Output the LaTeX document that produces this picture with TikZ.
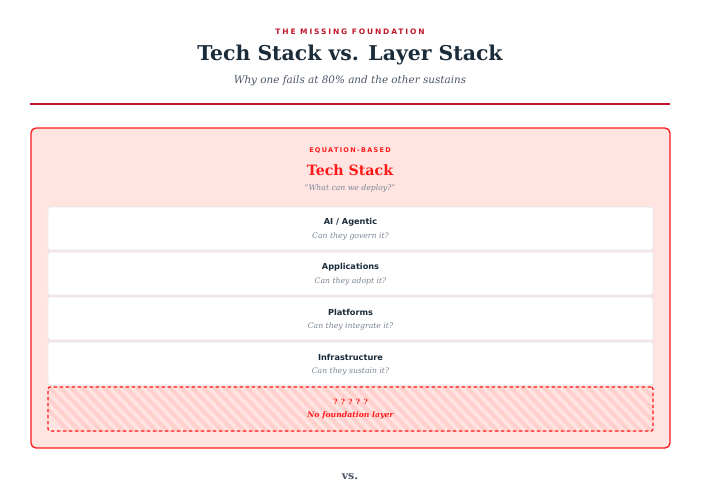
\documentclass[tikz,border=0pt]{standalone}
\usepackage{fontspec}
\setmainfont{DejaVu Serif}
\setsansfont{DejaVu Sans}
\usetikzlibrary{positioning}
\definecolor{navy}{HTML}{1A2B3A}
\definecolor{darkred}{HTML}{C0182B}
\definecolor{brightred}{HTML}{FF1A1A}
\definecolor{blush}{HTML}{FFE4E1}
\definecolor{stripe}{HTML}{FFD0CC}
\definecolor{slate}{HTML}{4A5565}
\definecolor{muted}{HTML}{7A8594}
\definecolor{rowline}{HTML}{E2E6EC}

\begin{document}
\begin{tikzpicture}[x=1pt, y=-1pt,
    kicker/.style={font=\sffamily\bfseries\fontsize{7.5}{9}\selectfont, text=darkred},
    layer/.style={fill=white, draw=rowline, line width=0.8pt, rounded corners=2pt, minimum width=605pt, minimum height=43pt, inner sep=0pt},
    layername/.style={font=\sffamily\bfseries\fontsize{8.2}{10}\selectfont, text=navy},
    layerq/.style={font=\itshape\fontsize{7.7}{9}\selectfont, text=muted}]
    % canvas
    \useasboundingbox (0,0) rectangle (702,482);

    % Header
    \node[kicker] (kick) at (350,31.5) {\addfontfeature{LetterSpace=25}THE MISSING FOUNDATION};
    \node[font=\bfseries\fontsize{20.4}{24}\selectfont, text=navy] (title) at (350,55) {Tech Stack vs. Layer Stack};
    \node[font=\itshape\fontsize{10.4}{13}\selectfont, text=slate] (sub) at (350,80.5) {Why one fails at 80\% and the other sustains};
    \draw[darkred, line width=2pt] (30,104) -- (670,104);

    % Tech stack panel
    \draw[fill=blush, draw=brightred, line width=1.3pt, rounded corners=5pt] (31,128) rectangle (670,448);
    \node[font=\sffamily\bfseries\fontsize{6.5}{8}\selectfont, text=brightred] (eq) at (350,150.5) {\addfontfeature{LetterSpace=20}EQUATION-BASED};
    \node[font=\bfseries\fontsize{14.2}{17}\selectfont, text=brightred] (tech) at (350,170.5) {Tech Stack};
    \node[font=\itshape\fontsize{7.7}{9}\selectfont, text=muted] (deploy) at (350,188.5) {"What can we deploy?"};

    % Layers
    \node[layer] (ai) at (350.5,228.5) {};
    \node[layer] (apps) at (350.5,273.5) {};
    \node[layer] (plat) at (350.5,318.5) {};
    \node[layer] (infra) at (350.5,363.5) {};
    \foreach \n/\t/\q in {ai/{AI / Agentic}/Can they govern it?,
                          apps/Applications/Can they adopt it?,
                          plat/Platforms/Can they integrate it?,
                          infra/Infrastructure/Can they sustain it?} {
        \node[layername] at ([yshift=6pt]\n.center) {\t};
        \node[layerq] at ([yshift=-8pt]\n.center) {\q};
    }

    % Missing foundation
    \begin{scope}
        \clip (48,387) rectangle (653,431);
        \fill[blush] (48,387) rectangle (653,431);
        \foreach \i in {0,11,...,660}
            \draw[stripe, line width=4pt] (\i+20,380) -- (\i+75,438);
    \end{scope}
    \node[draw=brightred, dash pattern=on 3.5pt off 2.5pt, line width=1.2pt, rounded corners=2pt, minimum width=605pt, minimum height=44pt, inner sep=0pt] (found) at (350.5,409) {};
    \node[font=\bfseries\fontsize{7.2}{9}\selectfont, text=brightred] at ([yshift=7pt]found.center) {? ? ? ? ?};
    \node[font=\bfseries\itshape\fontsize{7.7}{9}\selectfont, text=brightred] at ([yshift=-6.5pt]found.center) {No foundation layer};

    % vs.
    \node[font=\bfseries\fontsize{11}{13}\selectfont, text=slate] (vs) at (350,477) {vs.};
\end{tikzpicture}
\end{document}
